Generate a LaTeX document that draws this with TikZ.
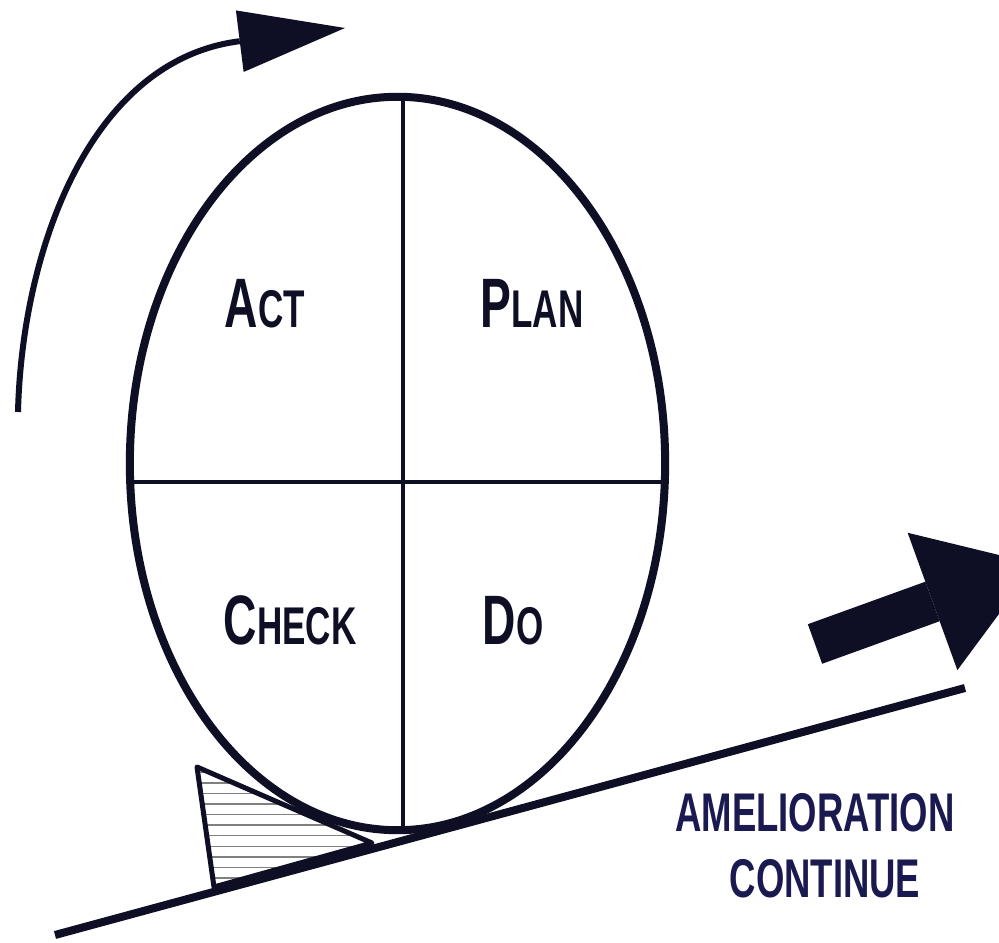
\documentclass[tikz,border=0pt]{standalone}
\usepackage{fontspec}
\setmainfont{Liberation Sans}
\usetikzlibrary{shapes.geometric,arrows.meta,calc,patterns}
\definecolor{pdcaInk}{HTML}{0E0E24}
\definecolor{amNavy}{HTML}{1A1A50}
\newcommand{\pdcalabel}[2]{\scalebox{0.66}[1]{#1{\fontsize{15.1}{15}\selectfont #2}}}

\begin{document}
\begin{tikzpicture}[x=0.01cm, y=-0.01cm,
    cyclewheel/.style={ellipse, draw=pdcaInk, line width=0.08cm, minimum width=5.35cm,
                       minimum height=7.33cm, inner sep=0, outer sep=0},
    divider/.style={draw=pdcaInk, line width=0.045cm},
    quarter/.style={anchor=base, inner sep=0, font=\fontsize{19.9}{20}\selectfont\bfseries, text=pdcaInk},
    motto/.style={anchor=base, inner sep=0, font=\fontsize{15.5}{16}\selectfont\bfseries, text=amNavy},
    chock/.style={draw=pdcaInk, line width=0.05cm, line join=round,
                  pattern=horizontal lines, pattern color=gray},
    ramp/.style={draw=pdcaInk, line width=0.08cm},
    turnarrow/.style={draw=pdcaInk, line width=0.06cm,
                      -{Triangle[length=1.06cm, width=0.62cm, line width=0pt]}},
    bigarrow/.style={draw=pdcaInk, line width=0.42cm,
                     -{Triangle[length=1.1cm, width=1.46cm, line width=0pt]}},
]
    \fill[white] (0,0) rectangle (999,943);
    \useasboundingbox (0,0) rectangle (999,943);

    \draw[chock] (197,767) -- (214,887) -- (372,843) -- cycle;

    \node[cyclewheel] (wheel) at (397.5,463.5) {};
    \draw[divider] ([xshift=0.055cm]wheel.north) -- ([xshift=0.055cm]wheel.south);
    \draw[divider] ([yshift=-0.185cm]wheel.west) -- ([yshift=-0.185cm]wheel.east);

    \node[quarter] (act)   at (265,328) {\pdcalabel{A}{CT}};
    \node[quarter] (plan)  at (532,328) {\pdcalabel{P}{LAN}};
    \node[quarter] (check) at (290,645) {\pdcalabel{C}{HECK}};
    \node[quarter] (do)    at (513,645) {\pdcalabel{D}{O}};

    \coordinate (rampstart) at (55,935);
    \coordinate (rampend)   at (965,688);
    \draw[ramp] (rampstart) -- (rampend);

    \coordinate (turnstart) at (18,412);
    \coordinate (turnend)   at (345,28);
    \draw[turnarrow] (turnstart) .. controls (22,250) and (90,60) .. (turnend);

    \coordinate (bigtail) at (815,644);
    \coordinate (bigtip)  at (1036,564);
    \draw[bigarrow] (bigtail) -- (bigtip);

    \node[motto] (amelio)   at (815,832) {\scalebox{0.67}[1]{AMELIORATION}};
    \node[motto] (continue) at (825,898) {\scalebox{0.67}[1]{CONTINUE}};
\end{tikzpicture}
\end{document}
